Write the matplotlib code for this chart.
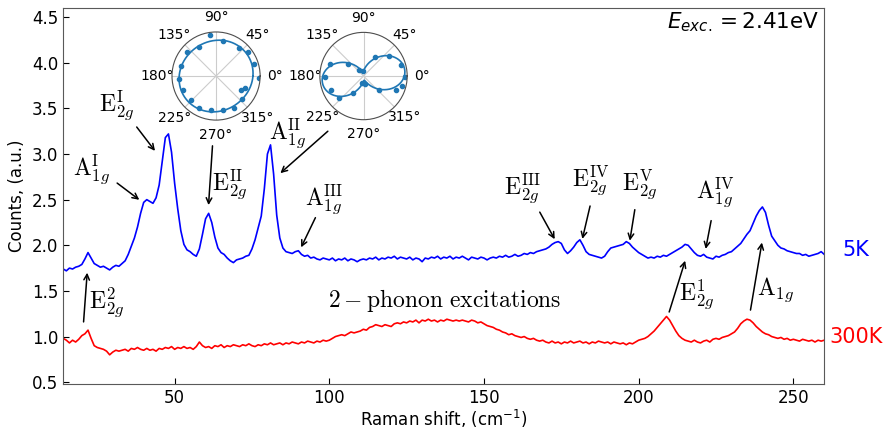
import numpy as np
import matplotlib
matplotlib.use("Agg")
import matplotlib.pyplot as plt

# Raman shift grid (cm^-1), 1 cm^-1 steps
shift = np.arange(14, 261, 1)

# 5K spectrum (blue)
counts_5k = [
    1.74, 1.72, 1.75, 1.74, 1.76, 1.77, 1.79, 1.85, 1.92, 1.86,
    1.80, 1.78, 1.76, 1.77, 1.75, 1.73, 1.76, 1.78, 1.77, 1.80,
    1.83, 1.90, 1.99, 2.08, 2.20, 2.35, 2.47, 2.50, 2.48, 2.46,
    2.52, 2.66, 2.92, 3.18, 3.22, 3.02, 2.68, 2.40, 2.16, 2.01,
    1.95, 1.93, 1.90, 1.88, 1.96, 2.12, 2.29, 2.35, 2.25, 2.09,
    1.97, 1.92, 1.90, 1.86, 1.83, 1.81, 1.84, 1.85, 1.86, 1.88,
    1.89, 1.96, 2.06, 2.19, 2.32, 2.62, 3.00, 3.10, 2.78, 2.33,
    2.08, 1.97, 1.93, 1.92, 1.91, 1.93, 1.94, 1.90, 1.88, 1.89,
    1.86, 1.87, 1.85, 1.84, 1.86, 1.85, 1.84, 1.86, 1.83, 1.85,
    1.84, 1.86, 1.83, 1.85, 1.84, 1.82, 1.84, 1.85, 1.84, 1.86,
    1.85, 1.87, 1.84, 1.86, 1.85, 1.87, 1.86, 1.88, 1.85, 1.87,
    1.86, 1.85, 1.87, 1.84, 1.86, 1.85, 1.82, 1.86, 1.85, 1.87,
    1.86, 1.88, 1.85, 1.87, 1.86, 1.88, 1.85, 1.87, 1.86, 1.88,
    1.86, 1.84, 1.87, 1.86, 1.85, 1.87, 1.86, 1.84, 1.86, 1.87,
    1.86, 1.88, 1.87, 1.89, 1.87, 1.88, 1.90, 1.88, 1.89, 1.91,
    1.90, 1.92, 1.91, 1.93, 1.94, 1.95, 1.96, 1.98, 2.01, 2.03,
    2.04, 2.02, 1.95, 1.91, 1.94, 1.98, 2.03, 2.06, 2.00, 1.93,
    1.90, 1.89, 1.88, 1.87, 1.86, 1.88, 1.93, 1.97, 1.98, 1.99,
    2.00, 2.01, 2.04, 2.02, 1.98, 1.95, 1.92, 1.90, 1.88, 1.86,
    1.87, 1.86, 1.88, 1.87, 1.89, 1.88, 1.90, 1.92, 1.94, 1.96,
    1.98, 2.01, 2.00, 1.96, 1.92, 1.89, 1.88, 1.90, 1.87, 1.86,
    1.85, 1.88, 1.87, 1.89, 1.90, 1.92, 1.93, 1.96, 1.99, 2.02,
    2.07, 2.12, 2.16, 2.24, 2.32, 2.38, 2.42, 2.36, 2.22, 2.10,
    2.05, 2.00, 1.97, 1.96, 1.94, 1.93, 1.92, 1.91, 1.91, 1.89,
    1.90, 1.88, 1.89, 1.90, 1.91, 1.93, 1.90,
]

# 300K spectrum (red)
counts_300k = [
    0.98, 0.96, 0.93, 0.96, 0.94, 0.97, 1.01, 1.03, 1.07, 0.98,
    0.90, 0.88, 0.87, 0.86, 0.84, 0.80, 0.83, 0.85, 0.84, 0.85,
    0.86, 0.84, 0.87, 0.86, 0.88, 0.86, 0.85, 0.87, 0.85, 0.86,
    0.84, 0.87, 0.86, 0.88, 0.87, 0.89, 0.86, 0.88, 0.87, 0.89,
    0.87, 0.88, 0.86, 0.89, 0.94, 0.90, 0.88, 0.89, 0.87, 0.90,
    0.89, 0.91, 0.88, 0.90, 0.89, 0.91, 0.90, 0.89, 0.91, 0.90,
    0.92, 0.90, 0.89, 0.91, 0.90, 0.92, 0.91, 0.93, 0.91, 0.92,
    0.93, 0.91, 0.93, 0.92, 0.94, 0.93, 0.92, 0.94, 0.93, 0.95,
    0.94, 0.93, 0.95, 0.94, 0.96, 0.95, 0.96, 0.98, 1.00, 1.01,
    1.02, 1.01, 1.03, 1.05, 1.04, 1.05, 1.06, 1.08, 1.07, 1.10,
    1.11, 1.13, 1.12, 1.11, 1.13, 1.12, 1.11, 1.14, 1.15, 1.14,
    1.16, 1.15, 1.17, 1.16, 1.18, 1.15, 1.18, 1.17, 1.19, 1.17,
    1.18, 1.16, 1.18, 1.17, 1.19, 1.18, 1.17, 1.18, 1.17, 1.18,
    1.17, 1.16, 1.18, 1.17, 1.15, 1.16, 1.14, 1.12, 1.11, 1.10,
    1.08, 1.07, 1.05, 1.04, 1.02, 1.03, 1.01, 1.00, 0.99, 1.00,
    0.98, 0.97, 0.98, 0.96, 0.95, 0.96, 0.94, 0.93, 0.95, 0.93,
    0.94, 0.92, 0.94, 0.93, 0.95, 0.93, 0.94, 0.95, 0.93, 0.94,
    0.92, 0.94, 0.93, 0.95, 0.94, 0.93, 0.94, 0.92, 0.94, 0.93,
    0.92, 0.93, 0.91, 0.93, 0.92, 0.94, 0.96, 0.97, 0.98, 1.00,
    1.03, 1.06, 1.10, 1.14, 1.18, 1.22, 1.18, 1.12, 1.06, 1.01,
    0.98, 0.96, 0.95, 0.94, 0.96, 0.94, 0.93, 0.95, 0.96, 0.94,
    0.97, 0.98, 0.97, 0.99, 1.00, 1.01, 1.03, 1.05, 1.09, 1.14,
    1.17, 1.19, 1.18, 1.15, 1.11, 1.08, 1.05, 1.03, 1.02, 1.00,
    0.99, 0.98, 0.99, 0.97, 0.98, 0.96, 0.97, 0.96, 0.95, 0.97,
    0.96, 0.95, 0.96, 0.94, 0.96, 0.95, 0.96,
]

# polarisation data for the two insets (angle in degrees, normalised intensity)
pol_left_deg = [358, 18, 37, 51, 79, 99, 120, 140, 164, 185,
                203, 224, 242, 262, 281, 299, 318, 330, 338]
pol_left_r = [1.00, 0.93, 0.92, 0.84, 0.82, 0.95, 0.77, 0.87, 0.85, 0.87,
              0.83, 0.80, 0.85, 0.80, 0.81, 0.85, 0.80, 0.66, 0.73]
pol_right_deg = [358, 17, 38, 58, 101, 130, 143, 161, 182,
                 203, 222, 240, 256, 282, 318, 337, 345]
pol_right_r = [0.96, 0.92, 0.76, 0.52, 0.12, 0.18, 0.45, 0.84, 0.90,
               0.83, 0.76, 0.47, 0.16, 0.18, 0.48, 0.82, 0.92]

# peak labels: (text, text x, text y, arrow tail x, tail y, arrow tip x, tip y)
peak_labels = [
    (r"$\mathrm{E}_{2g}^{\mathrm{I}}$", 31.4, 3.53, 37.2, 3.32, 44.2, 3.01),
    (r"$\mathrm{A}_{1g}^{\mathrm{I}}$", 23.0, 2.83, 30.7, 2.70, 39.3, 2.48),
    (r"$\mathrm{E}_{2g}^{\mathrm{II}}$", 67.7, 2.67, 62.3, 3.12, 60.9, 2.41),
    (r"$\mathrm{A}_{1g}^{\mathrm{II}}$", 86.6, 3.23, 100.2, 3.27, 83.5, 2.77),
    (r"$\mathrm{A}_{1g}^{\mathrm{III}}$", 98.3, 2.50, 95.9, 2.33, 90.5, 1.95),
    (r"$\mathrm{E}_{2g}^{\mathrm{III}}$", 162.3, 2.63, 167.6, 2.39, 173.3, 2.04),
    (r"$\mathrm{E}_{2g}^{\mathrm{IV}}$", 184.3, 2.70, 184.5, 2.46, 181.6, 2.04),
    (r"$\mathrm{E}_{2g}^{\mathrm{V}}$", 200.2, 2.66, 198.9, 2.42, 197.0, 2.02),
    (r"$\mathrm{A}_{1g}^{\mathrm{IV}}$", 224.7, 2.57, 223.6, 2.30, 221.5, 1.93),
    (r"$\mathrm{A}_{1g}$", 244.3, 1.51, 236.0, 1.26, 240.0, 2.06),
    (r"$\mathrm{E}_{2g}^{1}$", 218.8, 1.46, 209.6, 1.24, 215.3, 1.86),
    (r"$\mathrm{E}_{2g}^{2}$", 28.1, 1.38, 20.5, 1.13, 21.8, 1.73),
]

fig = plt.figure(figsize=(8.91, 4.32), dpi=100)
ax = fig.add_axes([0.0710, 0.1111, 0.8541, 0.8704])

ax.plot(shift, counts_5k, color="blue", lw=1.2)
ax.plot(shift, counts_300k, color="red", lw=1.2)

ax.set_xlim(14, 260)
ax.set_ylim(0.48, 4.6)
ax.set_yticks(np.arange(0.5, 4.51, 0.5))
ax.set_xticks([50, 100, 150, 200, 250])
ax.tick_params(direction="in", labelsize=12, length=4, top=False, right=False)
for s in ax.spines.values():
    s.set_color("0.35")
ax.set_xlabel(r"Raman shift, (cm$^{-1}$)", fontsize=12, labelpad=1)
ax.set_ylabel("Counts, (a.u.)", fontsize=12)

for txt, tx, ty, ax0, ay0, ax1, ay1 in peak_labels:
    ax.annotate("", xy=(ax1, ay1), xytext=(ax0, ay0),
                arrowprops=dict(arrowstyle="->", color="black", lw=1.1))
    ax.text(tx, ty, txt, fontsize=17, ha="center", va="center", math_fontfamily="cm")

ax.text(137.4, 1.40, r"$2-\mathrm{phonon\ excitations}$", fontsize=17,
        ha="center", va="center", math_fontfamily="cm")
ax.text(0.994, 0.963, r"$E_{exc.}=2.41$eV", transform=ax.transAxes,
        fontsize=15.5, ha="right", va="center")

fig.text(0.961, 0.421, "5K", color="blue", fontsize=15, ha="center", va="center")
fig.text(0.961, 0.220, "300K", color="red", fontsize=15, ha="center", va="center")


# polar insets with a cos^2 fit through the points
def polar_inset(rect, deg, r):
    pax = fig.add_axes(rect, projection="polar")
    th = np.deg2rad(deg)
    A = np.column_stack([np.ones_like(th), np.cos(2 * th), np.sin(2 * th)])
    coef = np.linalg.lstsq(A, np.array(r), rcond=None)[0]
    tt = np.linspace(0, 2 * np.pi, 361)
    fit = coef[0] + coef[1] * np.cos(2 * tt) + coef[2] * np.sin(2 * tt)
    pax.plot(tt, fit, color="#1f77b4", lw=1.2)
    pax.plot(th, r, "o", color="#1f77b4", ms=3)
    pax.set_ylim(0, 1.02)
    pax.set_yticks([])
    pax.set_xticks(np.deg2rad(np.arange(0, 360, 45)))
    pax.tick_params(labelsize=10, pad=0)
    pax.grid(color="0.8", lw=0.8)
    pax.spines["polar"].set_color("0.3")
    pax.set_facecolor("white")
    return pax


polar_inset([0.193, 0.722, 0.099, 0.204], pol_left_deg, pol_left_r)
polar_inset([0.359, 0.722, 0.098, 0.204], pol_right_deg, pol_right_r)

fig.savefig("out.png", dpi=100)
